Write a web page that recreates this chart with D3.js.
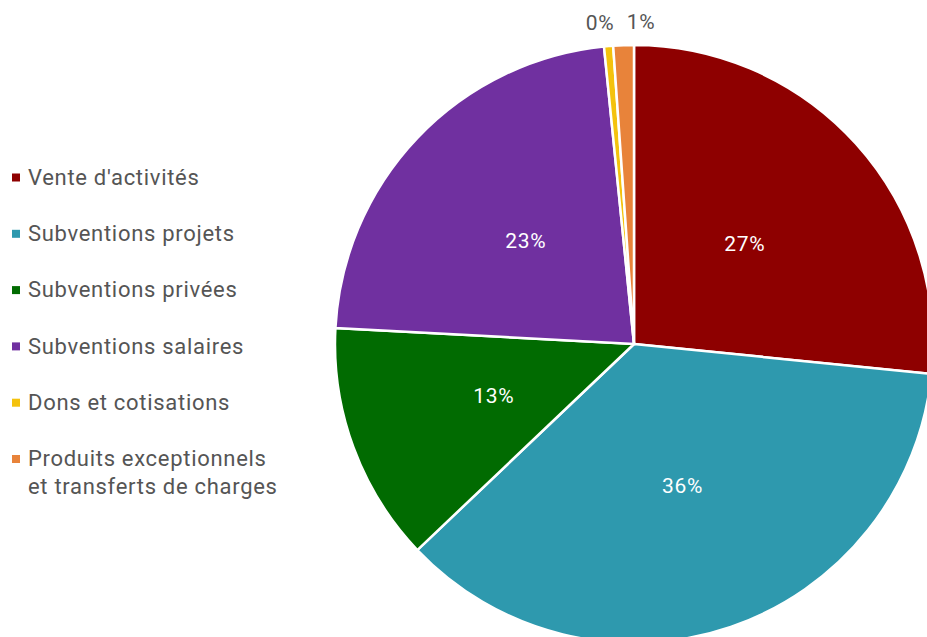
<!DOCTYPE html>
<html>
<head>
<meta charset="utf-8" />
<script src="https://d3js.org/d3.v7.min.js"></script>
<style>
  body { margin: 0; background: #fff; }
  text { font-family: Roboto, "Noto Sans", sans-serif; letter-spacing: 0.7px; }
</style>
</head>
<body>
<div id="chart"></div>
<script>
// données
var categories = ["Vente d'activités", "Subventions projets", "Subventions privées",
                  "Subventions salaires", "Dons et cotisations",
                  "Produits exceptionnels\net transferts de charges"];
var values = [26.6, 36.3, 12.95, 22.55, 0.49, 1.11];
var colors = ["#8e0000", "#2e99ae", "#016b01", "#7030a0", "#f4c20d", "#e8833a"];

var width = 927, height = 637;
var cx = 634, cy = 344, r = 299;

var svg = d3.select("#chart").append("svg")
  .attr("width", width).attr("height", height);

var total = d3.sum(values);
var data = categories.map(function(c, i) { return {name: c, value: values[i], color: colors[i]}; });

var pie = d3.pie().sort(null).value(function(d) { return d.value; });
var arcs = pie(data);
var arc = d3.arc().innerRadius(0).outerRadius(r);
var labelArc = d3.arc().innerRadius(r * 0.5).outerRadius(r * 0.5);
var outArc = d3.arc().innerRadius(r + 24).outerRadius(r + 24);

var g = svg.append("g").attr("transform", "translate(" + cx + "," + cy + ")");

g.selectAll("path").data(arcs).enter().append("path")
  .attr("d", arc)
  .attr("fill", function(d) { return d.data.color; })
  .attr("stroke", "#fff")
  .attr("stroke-width", 2.5);

function pct(d) { return Math.round(d.data.value / total * 100) + "%"; }

// étiquettes dans les parts
var big = arcs.filter(function(d) { return d.data.value / total > 0.05; });
g.selectAll(".inlab").data(big).enter().append("text")
  .attr("class", "inlab")
  .attr("transform", function(d) { return "translate(" + labelArc.centroid(d) + ")"; })
  .attr("text-anchor", "middle")
  .attr("dy", "0.35em")
  .attr("fill", "#fff")
  .attr("font-size", 21)
  .text(pct);

// petites parts : étiquettes à l'extérieur, écartées
var small = arcs.filter(function(d) { return d.data.value / total <= 0.05; });
var pos = small.map(function(d) { return outArc.centroid(d); });
var mean = d3.mean(pos, function(p) { return p[0]; });
var gap = 41;
pos.forEach(function(p, i) { p[0] = mean + 6 + (i - (pos.length - 1) / 2) * gap; });
g.selectAll(".outlab").data(small).enter().append("text")
  .attr("class", "outlab")
  .attr("x", function(d, i) { return pos[i][0]; })
  .attr("y", function(d, i) { return pos[i][1]; })
  .attr("text-anchor", "middle")
  .attr("dy", "0.35em")
  .attr("fill", "#555")
  .attr("font-size", 21)
  .text(pct);

// légende
var legend = svg.append("g").attr("transform", "translate(12,177)");
var item = legend.selectAll("g").data(data).enter().append("g")
  .attr("transform", function(d, i) { return "translate(0," + (i * 56.3) + ")"; });
item.append("rect")
  .attr("x", 0).attr("y", -3.5).attr("width", 8).attr("height", 8)
  .attr("fill", function(d) { return d.color; });
item.append("text")
  .attr("x", 16)
  .attr("fill", "#555")
  .attr("font-size", 22)
  .selectAll("tspan")
  .data(function(d) { return d.name.split("\n"); })
  .enter().append("tspan")
  .attr("x", 16)
  .attr("dy", function(d, i) { return i === 0 ? "0.35em" : "1.25em"; })
  .text(function(d) { return d; });
</script>
</body>
</html>
